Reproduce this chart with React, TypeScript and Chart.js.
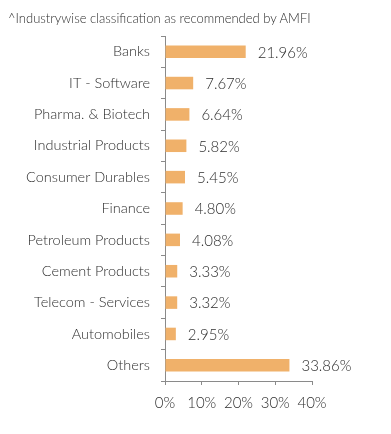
import React, { useEffect, useRef } from "react";
import { Chart, registerables } from "chart.js";

Chart.register(...registerables);

const categories = [
  "Banks",
  "IT - Software",
  "Pharma. & Biotech",
  "Industrial Products",
  "Consumer Durables",
  "Finance",
  "Petroleum Products",
  "Cement Products",
  "Telecom - Services",
  "Automobiles",
  "Others",
];
const values = [21.96, 7.67, 6.64, 5.82, 5.45, 4.8, 4.08, 3.33, 3.32, 2.95, 33.86];
const titleText = "^Industrywise classification as recommended by AMFI";

const FONT = "Lato, 'Open Sans', sans-serif";

const valueLabels = {
  id: "valueLabels",
  afterDatasetsDraw(chart: any) {
    const ctx = chart.ctx;
    const meta = chart.getDatasetMeta(0);
    ctx.save();
    ctx.font = `300 15px ${FONT}`;
    ctx.fillStyle = "#2e2e2e";
    ctx.textAlign = "left";
    ctx.textBaseline = "middle";
    meta.data.forEach((bar: any, i: number) => {
      ctx.fillText(values[i].toFixed(2) + "%", bar.x + 12, bar.y + 1);
    });
    ctx.restore();
  },
};

export default function App() {
  const ref = useRef<HTMLCanvasElement | null>(null);
  useEffect(() => {
    if (!ref.current) return;
    const chart = new Chart(ref.current, {
      type: "bar",
      data: {
        labels: categories,
        datasets: [
          {
            data: values,
            backgroundColor: "#F0B16A",
            barPercentage: 0.8,
            categoryPercentage: 0.5,
          },
        ],
      },
      options: {
        indexAxis: "y",
        animation: false,
        responsive: false,
        layout: { padding: { top: 36, right: 79, bottom: 13, left: 0 } },
        plugins: {
          legend: { display: false },
          tooltip: { enabled: false },
        },
        scales: {
          y: {
            afterFit(scale: any) {
              scale.width = 165;
            },
            border: { color: "#8a8a8a", width: 1 },
            grid: {
              offset: true,
              drawOnChartArea: false,
              tickLength: 4,
              color: "#8a8a8a",
            },
            ticks: {
              padding: 11,
              color: "#2e2e2e",
              font: { family: FONT, size: 14.5, weight: "300" },
            },
          },
          x: {
            min: 0,
            max: 40,
            border: { color: "#8a8a8a", width: 1 },
            grid: {
              drawOnChartArea: false,
              tickLength: 4,
              color: "#8a8a8a",
            },
            ticks: {
              stepSize: 10,
              padding: 9,
              color: "#2e2e2e",
              font: { family: FONT, size: 15, weight: "300" },
              callback: (v: any) => v + "%",
            },
          },
        },
      },
      plugins: [valueLabels],
    });
    return () => chart.destroy();
  }, []);
  return (
    <div style={{ position: "fixed", left: 0, top: 0, width: 391, height: 434, background: "#fff" }}>
      <div
        style={{
          position: "absolute",
          left: 8,
          top: 10,
          fontFamily: FONT,
          fontSize: 13,
          fontWeight: 300,
          color: "#2e2e2e",
          whiteSpace: "nowrap",
        }}
      >
        {titleText}
      </div>
      <canvas ref={ref} width={391} height={434} style={{ display: "block" }} />
    </div>
  );
}
